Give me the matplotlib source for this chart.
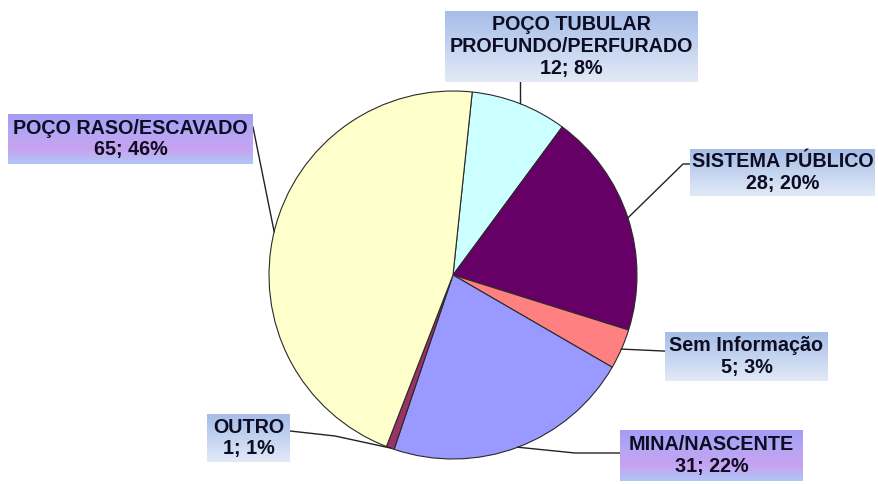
import numpy as np
import matplotlib
matplotlib.use('Agg')
from matplotlib import pyplot as plt
from matplotlib.colors import to_rgb

plt.rcParams['font.family'] = ['Liberation Sans', 'DejaVu Sans']

# origem da agua de abastecimento
labels = ['POÇO TUBULAR\nPROFUNDO/PERFURADO', 'SISTEMA PÚBLICO', 'Sem Informação',
          'MINA/NASCENTE', 'OUTRO', 'POÇO RASO/ESCAVADO']
values = [12, 28, 5, 31, 1, 65]
pcts = [8, 20, 3, 22, 1, 46]
colors = ['#CCFFFF', '#660066', '#FF8080', '#9999FF', '#993366', '#FFFFCC']

W, H = 879, 485

# caixas dos rotulos (pixels, origem no canto superior esquerdo)
boxes = [(445, 12, 698, 83), (690, 150, 875, 197), (665, 333, 828, 382),
         (620, 431, 803, 482), (207, 415, 290, 463), (8, 115, 253, 165)]
blue = ([0, 1], ['#A6BDE8', '#E2EAF7'])
violet = ([0, 0.35, 0.7, 1], ['#A59CF6', '#B4A6F4', '#C8A2F0', '#AFC6F8'])
fills = [blue, blue, blue, violet, blue, violet]

fig = plt.figure(figsize=(W / 100, H / 100), dpi=100)
ax = fig.add_axes([0, 0, 1, 1])

cx, cy, r = 453, H - 276, 184
start = 84
wedges, _ = ax.pie(values, colors=colors, startangle=start, counterclock=False,
                   center=(cx, cy), radius=r, frame=True,
                   wedgeprops=dict(edgecolor='#2a2a2a', linewidth=0.8))


def edge_point(w):
    a = np.deg2rad((w.theta1 + w.theta2) / 2)
    return cx + r * np.cos(a), cy + r * np.sin(a)


def gradient_box(x0, y0, x1, y1, fill):
    pos, cols = fill
    t = np.linspace(0, 1, 80)
    rgb = np.array([to_rgb(c) for c in cols])
    img = np.stack([np.interp(t, pos, rgb[:, k]) for k in range(3)], axis=-1)
    ax.imshow(img[:, None, :], extent=(x0, x1, H - y1, H - y0), origin='upper',
              aspect='auto', interpolation='bilinear', zorder=3)


for lab, v, p, b, f in zip(labels, values, pcts, boxes, fills):
    x0, y0, x1, y1 = b
    gradient_box(x0, y0, x1, y1, f)
    ax.text((x0 + x1) / 2, H - (y0 + y1) / 2 + 1, f'{lab}\n{v}; {p}%', ha='center',
            va='center', fontsize=14.2, fontweight='bold', color='#0c0c22',
            linespacing=1.17, zorder=4)

# linhas de chamada
ex, ey = [], []
for w in wedges:
    px, py = edge_point(w)
    ex.append(px)
    ey.append(py)
lk = dict(color='#222222', lw=1.0, zorder=2)
ax.plot([ex[0], ex[0]], [ey[0], H - 83], **lk)
ax.plot([ex[1], 683, 690], [ey[1], H - 165, H - 165], **lk)
ax.plot([ex[2], 665], [ey[2], ey[2] - 2], **lk)
ax.plot([ex[3], 575, 620], [ey[3], H - 454, H - 454], **lk)
ax.plot([ex[4], 335, 290], [ey[4], H - 437, H - 432], **lk)
ax.plot([ex[5], 253], [ey[5], H - 128], **lk)

ax.set_xlim(0, W)
ax.set_ylim(0, H)
ax.axis('off')

fig.savefig('out.png', dpi=100, facecolor='white')
